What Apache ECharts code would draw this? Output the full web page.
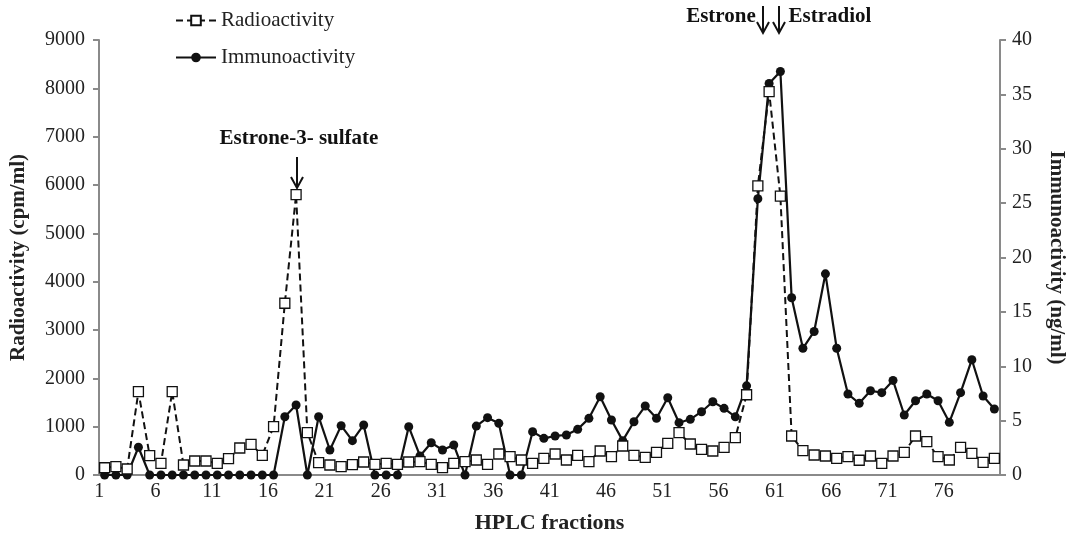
<!DOCTYPE html>
<html>
<head>
<meta charset="utf-8">
<script src="https://cdn.jsdelivr.net/npm/echarts@6/dist/echarts.min.js"></script>
<style>
html, body { margin: 0; padding: 0; background: #fff; }
#main { width: 1068px; height: 538px; }
</style>
</head>
<body>
<div id="main"></div>
<script>
// HPLC fractions 1..80
var fractions = [];
for (var f = 1; f <= 80; f++) fractions.push(String(f));

// Radioactivity (cpm/ml), left axis
var radioactivity = [
	150, 172, 124, 1724, 400, 242, 1724, 207, 290, 290,
	242, 338, 559, 634, 407, 1000, 3553, 5800, 875, 255,
	207, 172, 214, 269, 221, 242, 221, 269, 276, 221,
	151, 242, 276, 310, 221, 434, 379, 310, 242, 345,
	434, 310, 407, 276, 497, 379, 600, 407, 365, 469,
	655, 876, 641, 531, 497, 572, 772, 1660, 5980, 7930,
	5770, 807, 503, 414, 393, 345, 379, 305, 393, 242,
	393, 469, 807, 690, 379, 310, 572, 448, 262, 345
];

// Immunoactivity (ng/ml), right axis
var immunoactivity = [
	0, 0, 0, 2.55, 0, 0, 0, 0, 0, 0,
	0, 0, 0, 0, 0, 0, 5.36, 6.44, 0, 5.36,
	2.3, 4.54, 3.16, 4.6, 0, 0, 0, 4.44, 1.75, 2.97,
	2.3, 2.76, 0, 4.5, 5.27, 4.75, 0, 0, 3.98, 3.37,
	3.59, 3.68, 4.2, 5.21, 7.2, 5.06, 3.16, 4.9, 6.34, 5.21,
	7.1, 4.81, 5.12, 5.82, 6.74, 6.13, 5.35, 8.2, 25.4, 36.0,
	37.1, 16.3, 11.65, 13.2, 18.5, 11.65, 7.45, 6.59, 7.75, 7.57,
	8.7, 5.52, 6.83, 7.45, 6.83, 4.84, 7.57, 10.6, 7.26, 6.07
];

var FONT = 'Liberation Serif';
var AXIS_GRAY = '#8a8a8a';

var chart = echarts.init(document.getElementById('main'));

// arrow: vertical stem + open head
function arrow(x, y1, y2) {
	return [{
		type: 'line',
		shape: { x1: x, y1: y1, x2: x, y2: y2 },
		style: { stroke: '#111', lineWidth: 2 }
	}, {
		type: 'polyline',
		shape: { points: [[x - 6, y2 - 11], [x, y2], [x + 6, y2 - 11]] },
		style: { stroke: '#111', lineWidth: 2, fill: null }
	}];
}

function label(txt, x, y) {
	return {
		type: 'text',
		x: x, y: y,
		style: {
			text: txt,
			font: 'bold 21px "' + FONT + '"',
			fill: '#111',
			align: 'center',
			verticalAlign: 'middle'
		}
	};
}

var graphics = [label('Estrone-3- sulfate', 299, 139), label('Estrone', 721, 17), label('Estradiol', 830, 17)]
	.concat(arrow(297, 157, 188))
	.concat(arrow(763, 6, 33))
	.concat(arrow(779, 6, 33));

var nameStyle = { fontFamily: FONT, fontSize: 21, fontWeight: 'bold', color: '#222' };

option = {
	animation: false,
	backgroundColor: '#fff',
	textStyle: { fontFamily: FONT },
	grid: { left: 99, right: 68, top: 40, bottom: 63, outerBoundsMode: 'none', containLabel: false },
	legend: {
		orient: 'vertical',
		left: 170,
		top: 5,
		itemWidth: 40,
		itemHeight: 12,
		itemGap: 16,
		data: ['Radioactivity', 'Immunoactivity'],
		textStyle: { fontFamily: FONT, fontSize: 21, color: '#222' }
	},
	xAxis: {
		type: 'category',
		data: fractions,
		boundaryGap: true,
		name: 'HPLC fractions',
		nameLocation: 'middle',
		nameGap: 37,
		nameTextStyle: { fontFamily: FONT, fontSize: 22, fontWeight: 'bold', color: '#222' },
		axisLine: { lineStyle: { color: AXIS_GRAY, width: 2 } },
		axisTick: { interval: 4, length: 6, lineStyle: { color: AXIS_GRAY, width: 2 } },
		axisLabel: {
			interval: 4,
			margin: 7,
			fontFamily: FONT,
			fontSize: 20,
			color: '#222',
			padding: [0, 11, 0, 0]
		}
	},
	yAxis: [{
		type: 'value',
		min: 0,
		max: 9000,
		interval: 1000,
		name: 'Radioactivity (cpm/ml)',
		nameLocation: 'middle',
		nameGap: 70,
		nameTextStyle: nameStyle,
		splitLine: { show: false },
		axisLine: { show: true, lineStyle: { color: AXIS_GRAY, width: 2 } },
		axisTick: { show: true, length: 6, lineStyle: { color: AXIS_GRAY, width: 2 } },
		axisLabel: {
			margin: 14, fontFamily: FONT, fontSize: 20, color: '#222',
			formatter: function (v) { return String(v); }
		}
	}, {
		type: 'value',
		min: 0,
		max: 40,
		interval: 5,
		position: 'right',
		name: 'Immunoactivity (ng/ml)',
		nameLocation: 'middle',
		nameRotate: -90,
		nameGap: 46,
		nameTextStyle: nameStyle,
		splitLine: { show: false },
		axisLine: { show: true, lineStyle: { color: AXIS_GRAY, width: 2 } },
		axisTick: { show: true, length: 6, lineStyle: { color: AXIS_GRAY, width: 2 } },
		axisLabel: { margin: 12, fontFamily: FONT, fontSize: 20, color: '#222' }
	}],
	series: [{
		name: 'Radioactivity',
		type: 'line',
		yAxisIndex: 0,
		z: 3,
		data: radioactivity,
		symbol: 'rect',
		symbolSize: 10,
		showAllSymbol: true,
		lineStyle: { color: '#111', width: 2, type: [7, 4] },
		itemStyle: { color: '#fff', borderColor: '#111', borderWidth: 1.3 }
	}, {
		name: 'Immunoactivity',
		type: 'line',
		yAxisIndex: 1,
		z: 2,
		data: immunoactivity,
		symbol: 'circle',
		symbolSize: 9,
		showAllSymbol: true,
		lineStyle: { color: '#111', width: 2.2 },
		itemStyle: { color: '#111' }
	}],
	graphic: graphics
};

chart.setOption(option);
</script>
</body>
</html>
